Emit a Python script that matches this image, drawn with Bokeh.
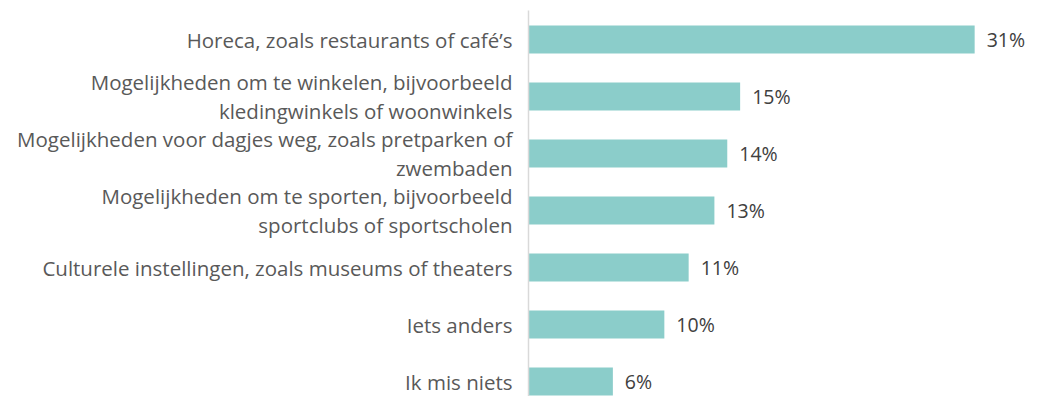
from bokeh.plotting import figure
from bokeh.models import Range1d, FixedTicker, ColumnDataSource
from bokeh.core.properties import value
from bokeh.embed import file_html
from bokeh.resources import INLINE

categories = [
    "Horeca, zoals restaurants of café’s",
    "Mogelijkheden om te winkelen, bijvoorbeeld\nkledingwinkels of woonwinkels",
    "Mogelijkheden voor dagjes weg, zoals pretparken of\nzwembaden",
    "Mogelijkheden om te sporten, bijvoorbeeld\nsportclubs of sportscholen",
    "Culturele instellingen, zoals museums of theaters",
    "Iets anders",
    "Ik mis niets",
]
values = [31.2, 14.8, 13.9, 13.0, 11.2, 9.5, 5.9]
labels = ["31%", "15%", "14%", "13%", "11%", "10%", "6%"]

positions = list(range(len(categories)))

FONT = "Open Sans"

src = ColumnDataSource(dict(y=positions, v=values, lab=labels))

p = figure(width=1026, height=396, output_backend="svg", toolbar_location=None,
           x_range=Range1d(0, 498 / 14.3), y_range=Range1d(6.263, -0.509),
           min_border_left=528, min_border_right=0, min_border_top=10, min_border_bottom=0)

p.hbar(y="y", right="v", left=0, height=0.49, source=src,
       fill_color="#8BCDCA", line_color=None)
p.text(x="v", y="y", text="lab", source=src, x_offset=12,
       text_baseline="middle", text_align="left",
       text_font=value(FONT), text_font_size="19.5px", text_color="#404040")

p.xaxis.visible = False
p.xgrid.visible = False
p.ygrid.visible = False
p.outline_line_color = None

ya = p.yaxis[0]
ya.ticker = FixedTicker(ticks=positions)
ya.major_label_overrides = {i: c for i, c in zip(positions, categories)}
ya.major_tick_line_color = None
ya.minor_tick_line_color = None
ya.axis_line_color = "#D9D9D9"
ya.axis_line_width = 1.5
ya.major_label_standoff = 10
ya.major_label_text_font = FONT
ya.major_label_text_font_size = "20.5px"
ya.major_label_text_color = "#595959"
ya.major_label_text_align = "right"
ya.major_label_text_line_height = 1.05

open("out.html", "w").write(file_html(p, INLINE))
